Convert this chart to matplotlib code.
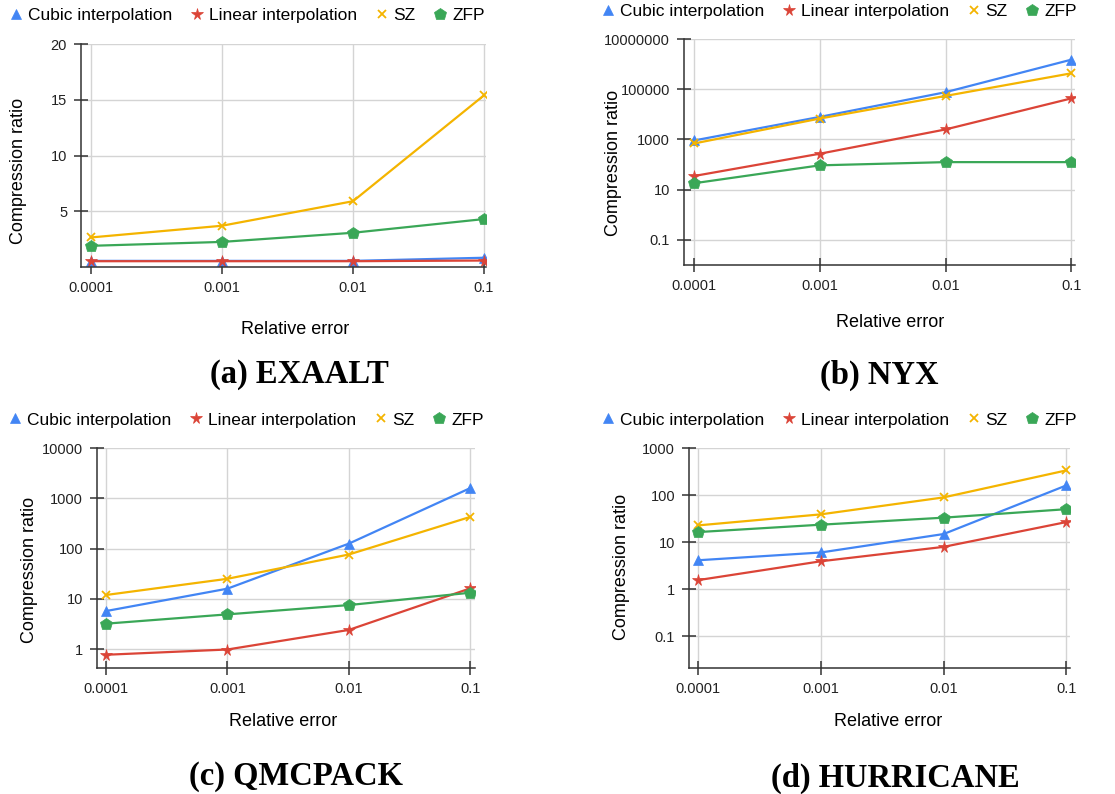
import matplotlib
matplotlib.use("Agg")
import matplotlib.pyplot as plt
from matplotlib.lines import Line2D
from matplotlib.ticker import FixedLocator, NullLocator

plt.rcParams["font.family"] = ["Liberation Sans", "DejaVu Sans"]

W, H = 1115, 794

errors = ["0.0001", "0.001", "0.01", "0.1"]
series_names = ["Cubic interpolation", "Linear interpolation", "SZ", "ZFP"]

# compression ratios
exaalt_cubic = [0.55, 0.55, 0.55, 0.83]
exaalt_linear = [0.52, 0.52, 0.52, 0.58]
exaalt_sz = [2.65, 3.7, 5.9, 15.4]
exaalt_zfp = [1.9, 2.25, 3.07, 4.3]

nyx_cubic = [910, 7900, 76000, 1500000]
nyx_linear = [35, 270, 2500, 43000]
nyx_sz = [690, 6800, 54000, 430000]
nyx_zfp = [18, 93, 125, 125]

qmc_cubic = [5.7, 15.9, 125, 1590]
qmc_linear = [0.77, 0.98, 2.4, 16.1]
qmc_sz = [11.9, 25, 76, 425]
qmc_zfp = [3.2, 4.9, 7.5, 13.2]

hur_cubic = [4.1, 6.0, 14.8, 160]
hur_linear = [1.55, 3.9, 7.9, 26.6]
hur_sz = [22.6, 38.8, 89, 334]
hur_zfp = [16.3, 23.4, 33, 50]

colors = ["#4285F4", "#DB4437", "#F4B400", "#3AA757"]
markers = ["^", "*", "x", "p"]
msizes = [7, 8.5, 6, 9]

panels = [
    dict(title="(a) EXAALT", data=[exaalt_cubic, exaalt_linear, exaalt_sz, exaalt_zfp],
         box=(81, 44, 486, 267), log=False, ylim=(0, 20), yticks=[5, 10, 15, 20],
         ytl=["5", "10", "15", "20"], xpad=(-0.076, 3.015),
         leg=(247, 15), ylab=(19, 171), xlab=(295, 330), ttl=(299, 375)),
    dict(title="(b) NYX", data=[nyx_cubic, nyx_linear, nyx_sz, nyx_zfp],
         box=(684, 39, 1075, 265), log=True, ylim=(0.01, 1e7),
         yticks=[0.1, 10, 1e3, 1e5, 1e7], ytl=["0.1", "10", "1000", "100000", "10000000"],
         xpad=(-0.08, 3.03), leg=(839, 11), ylab=(613, 163), xlab=(890, 322), ttl=(879, 375)),
    dict(title="(c) QMCPACK", data=[qmc_cubic, qmc_linear, qmc_sz, qmc_zfp],
         box=(97, 448, 475, 668), log=True, ylim=(0.42, 1e4),
         yticks=[1, 10, 100, 1e3, 1e4], ytl=["1", "10", "100", "1000", "10000"],
         xpad=(-0.074, 3.04), leg=(246, 420), ylab=(30, 570), xlab=(283, 721), ttl=(296, 776)),
    dict(title="(d) HURRICANE", data=[hur_cubic, hur_linear, hur_sz, hur_zfp],
         box=(689, 448, 1070, 668), log=True, ylim=(0.021, 1e3),
         yticks=[0.1, 1, 10, 100, 1e3], ytl=["0.1", "1", "10", "100", "1000"],
         xpad=(-0.073, 3.03), leg=(839, 420), ylab=(621, 567), xlab=(888, 722), ttl=(895, 778)),
]

fig = plt.figure(figsize=(W / 100, H / 100), dpi=100)
x = list(range(len(errors)))

for p in panels:
    l, t, r, b = p["box"]
    ax = fig.add_axes([l / W, 1 - b / H, (r - l) / W, (b - t) / H])
    for vals, c, m, ms in zip(p["data"], colors, markers, msizes):
        ax.plot(x, vals, color=c, lw=1.6, marker=m, ms=ms, mew=1.3 if m == "x" else 0.5, mec=c)
    if p["log"]:
        ax.set_yscale("log")
    ax.set_ylim(*p["ylim"])
    ax.set_xlim(*p["xpad"])
    ax.yaxis.set_major_locator(FixedLocator(p["yticks"]))
    ax.yaxis.set_minor_locator(NullLocator())
    ax.set_yticklabels(p["ytl"])
    ax.set_xticks(x)
    ax.set_xticklabels(errors)
    ax.grid(True, color="#d4d4d4", lw=1)
    ax.set_axisbelow(True)
    for s in ("top", "right"):
        ax.spines[s].set_visible(False)
    for s in ("left", "bottom"):
        ax.spines[s].set_color("#333333")
        ax.spines[s].set_linewidth(1.1)
    ax.tick_params(direction="inout", length=10, width=1.1, color="#333333",
                   labelsize=10.5, labelcolor="#222222", pad=5)

    handles = [Line2D([], [], ls="none", marker=m, color=c, ms=ms, mew=1.3 if m == "x" else 0.5)
               for c, m, ms in zip(colors, markers, msizes)]
    ax.legend(handles, series_names, loc="center", ncol=4, frameon=False,
              bbox_to_anchor=(p["leg"][0] / W, 1 - p["leg"][1] / H),
              bbox_transform=fig.transFigure, fontsize=12.5, handletextpad=0.3,
              columnspacing=1.0, handlelength=0.8, borderaxespad=0)

    fig.text(p["ylab"][0] / W, 1 - p["ylab"][1] / H, "Compression ratio", rotation=90,
             ha="center", va="center", fontsize=13)
    fig.text(p["xlab"][0] / W, 1 - p["xlab"][1] / H, "Relative error",
             ha="center", va="center", fontsize=13)
    fig.text(p["ttl"][0] / W, 1 - p["ttl"][1] / H, p["title"], ha="center", va="center",
             fontsize=23.5, fontweight="bold", family=["Liberation Serif", "DejaVu Serif"])

fig.savefig("out.png", dpi=100)
